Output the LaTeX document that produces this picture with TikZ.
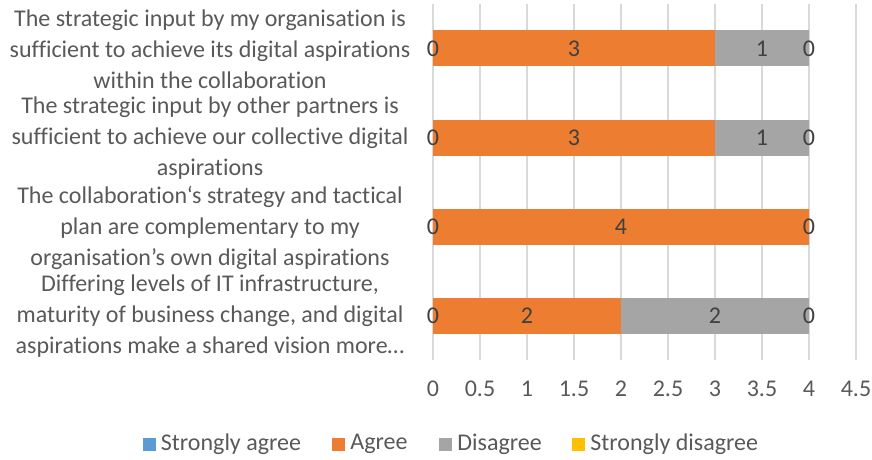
\documentclass[tikz,border=0pt]{standalone}
\usepackage{fontspec}
\setmainfont{Carlito}[RawFeature={-liga;-clig;-calt;-dlig;-rlig}]
\usetikzlibrary{positioning}

\definecolor{sagree}{HTML}{5B9BD5}
\definecolor{agree}{HTML}{ED7D31}
\definecolor{disagree}{HTML}{A5A5A5}
\definecolor{sdisagree}{HTML}{FFC000}
\definecolor{gridgray}{HTML}{D9D9D9}
\definecolor{labelgray}{HTML}{595959}
\definecolor{valgray}{HTML}{404040}

\tikzset{
  chartfont/.style={font=\fontsize{24}{31}\selectfont, text=labelgray, inner sep=1pt},
  catlabel/.style={chartfont, align=center},
  vallabel/.style={font=\fontsize{24}{29}\selectfont, text=valgray, inner sep=1pt},
  legendbox/.style={minimum size=13pt, inner sep=0pt},
}

\begin{document}
\begin{tikzpicture}[x=1pt,y=1pt]
            \useasboundingbox (0,0) rectangle (872,459);

            % grid and axis values
            \foreach \v [count=\i] in {0,0.5,1,1.5,2,2.5,3,3.5,4,4.5} {
                \draw[gridgray, line width=1.3pt] (433+94*\v,99) -- (433+94*\v,455);
                \node[chartfont] (tick\i) at (433+94*\v,70) {\v};
            }

            % bars
            \begin{scope}[xshift=433pt, x=94pt]
            \foreach \yc/\a/\d [count=\i] in {410.5/3/1, 321.5/3/1, 232.5/4/0, 143.5/2/2} {
                \fill[agree] (0,\yc-18) rectangle (\a,\yc+18);
                \fill[disagree] (\a,\yc-18) rectangle (\a+\d,\yc+18);
                \node[vallabel] (sa\i) at (0,\yc) {0};
                \node[vallabel] (ag\i) at (\a/2,\yc) {\a};
                \ifnum\d>0
                    \node[vallabel] (di\i) at (\a+\d/2,\yc) {\d};
                \fi
                \node[vallabel] (sd\i) at (4,\yc) {0};
            }
            \end{scope}

            % categories
            \node[catlabel] (cat1) at (210,409.5) {The strategic input by my organisation is\\sufficient to achieve its digital aspirations\\within the collaboration};
            \node[catlabel] (cat2) at (210,320.5) {The strategic input by other partners is\\sufficient to achieve our collective digital\\aspirations};
            \node[catlabel] (cat3) at (210,231.5) {The collaboration‘s strategy and tactical\\plan are complementary to my\\organisation’s own digital aspirations};
            \node[catlabel] (cat4) at (210,142.5) {Differing levels of IT infrastructure,\\maturity of business change, and digital\\aspirations make a shared vision more…};

            % legend
            \node[legendbox, fill=sagree] (lsa) at (149,15) {};
            \node[chartfont, right=4pt of lsa] (lsatext) {Strongly agree};
            \node[legendbox, fill=agree] (lag) at (338.5,15) {};
            \node[chartfont, right=4pt of lag] (lagtext) {Agree};
            \node[legendbox, fill=disagree] (ldi) at (445.5,15) {};
            \node[chartfont, right=4pt of ldi] (lditext) {Disagree};
            \node[legendbox, fill=sdisagree] (lsd) at (578.5,15) {};
            \node[chartfont, right=4pt of lsd] (lsdtext) {Strongly disagree};
\end{tikzpicture}
\end{document}
